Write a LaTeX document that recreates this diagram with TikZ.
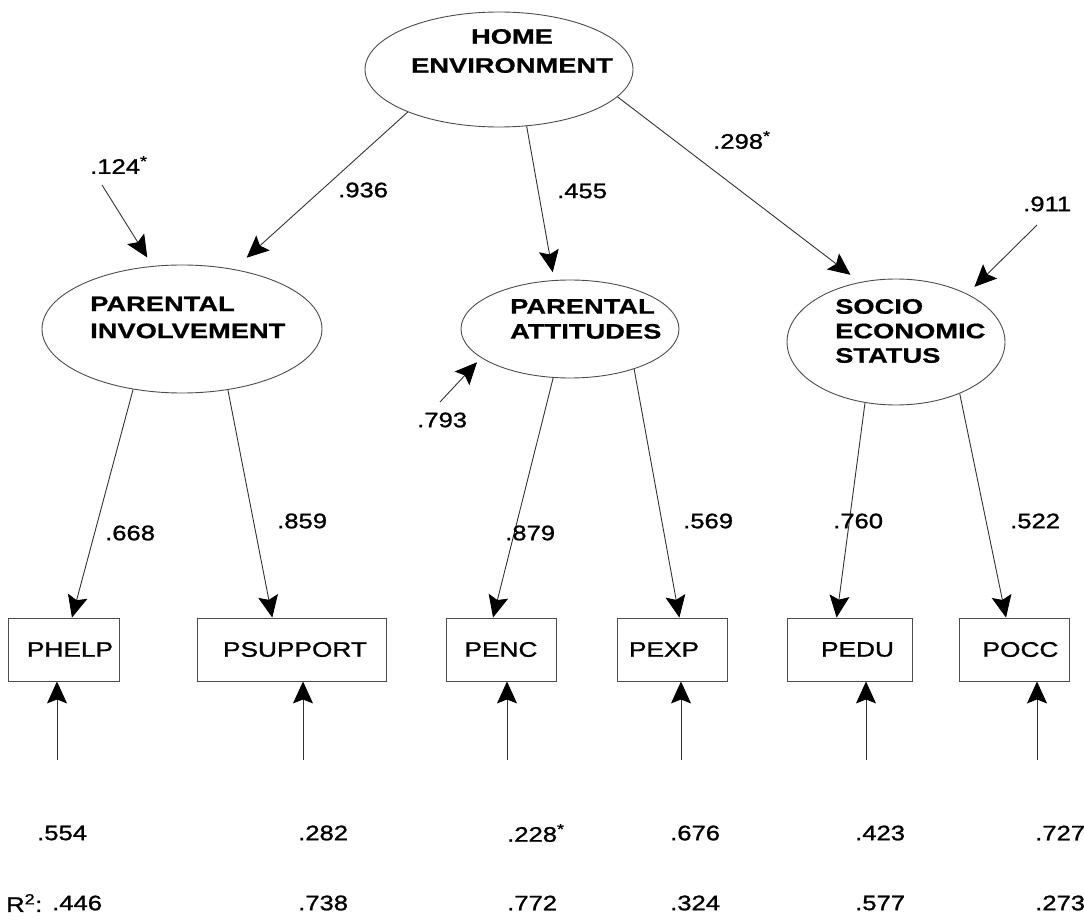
\documentclass[tikz,border=0pt]{standalone}
\usepackage{fontspec}
\setmainfont{Liberation Sans}
\newfontfamily\numf{Liberation Sans}[FakeStretch=1.22,FakeBold=1.2]
\newfontfamily\boxf{Liberation Sans}[FakeStretch=1.25,FakeBold=1.2]
\newfontfamily\latf{Liberation Sans Bold}[FakeStretch=1.3,FakeBold=0.8]
\usetikzlibrary{shapes.geometric,arrows.meta}
\tikzset{
  latent/.style={draw=black!70, ellipse, inner sep=0pt, line width=0.9pt},
  obs/.style={draw=black!70, rectangle, inner sep=0pt, line width=0.9pt, minimum height=63pt,
    font=\boxf\fontsize{21}{24}\selectfont},
  lattext/.style={font=\latf\fontsize{21}{26}\selectfont, align=left, inner sep=0pt, anchor=west},
  num/.style={font=\numf\fontsize{21}{24}\selectfont, inner sep=0pt, anchor=west},
  conn/.style={draw=black!80, line width=0.9pt, -{Stealth[length=22pt,width=20pt,inset=4pt,color=black]}}
}
\begin{document}
\begin{tikzpicture}[x=1pt,y=-1pt]
\useasboundingbox (0,0) rectangle (1084,920);
% latent variables
\node[latent, minimum width=268pt, minimum height=115pt] (home) at (499,69.5) {};
\node[latent, minimum width=280pt, minimum height=128pt] (pi) at (182,329) {};
\node[latent, minimum width=218pt, minimum height=98pt] (pa) at (570,329) {};
\node[latent, minimum width=218pt, minimum height=126pt] (ses) at (896,342) {};
\node[lattext, align=center, anchor=center, font=\latf\fontsize{21}{29}\selectfont] (homet) at (512,51) {HOME\\ENVIRONMENT};
\node[lattext, font=\latf\fontsize{21}{27}\selectfont] (pit) at (90,317.5) {PARENTAL\\INVOLVEMENT};
\node[lattext, font=\latf\fontsize{21}{25}\selectfont] (pat) at (510,319) {PARENTAL\\ATTITUDES};
\node[lattext, font=\latf\fontsize{21}{24.5}\selectfont] (sest) at (835,331) {SOCIO\\ECONOMIC\\STATUS};
% observed variables
\node[obs, minimum width=111pt] (phelp) at (64,649.5) {\hspace*{12pt}PHELP};
\node[obs, minimum width=189pt] (psupport) at (291.5,649.5) {\hspace*{7pt}PSUPPORT};
\node[obs, minimum width=110pt] (penc) at (501,649.5) {PENC};
\node[obs, minimum width=110pt] (pexp) at (672,649.5) {PEXP\hspace*{16pt}};
\node[obs, minimum width=125pt] (pedu) at (849.5,649.5) {\hspace*{16pt}PEDU};
\node[obs, minimum width=110pt] (pocc) at (1014,649.5) {\hspace*{13pt}POCC};
% error tails
\coordinate (e124) at (102,185);
\coordinate (e911) at (1037,225);
\coordinate (e793) at (440,402);
\coordinate (d1) at (57,760);
\coordinate (d2) at (303,760);
\coordinate (d3) at (507,760);
\coordinate (d4) at (681,760);
\coordinate (d5) at (866,760);
\coordinate (d6) at (1037,760);
% structural paths
\draw[conn, shorten >=17pt] (home.205) -- (pi.49);
\draw[conn, shorten >=8pt] (home.296) -- (pa.108);
\draw[conn, shorten >=12pt] (home.347) -- (ses.121);
\draw[conn, shorten >=10pt] (e124) -- (pi.115);
\draw[conn, shorten >=10pt] (e911) -- (ses.34);
\draw[conn, shorten >=6pt] (e793) -- (pa.198);
% loadings
\draw[conn] (pi.231) -- (phelp.76);
\draw[conn] (pi.307) -- (psupport.121);
\draw[conn] (pa.251) -- (penc.104);
\draw[conn] (pa.328) -- (pexp.77);
\draw[conn] (ses.243) -- (pedu.112);
\draw[conn] (ses.321) -- (pocc.104);
% measurement errors
\draw[conn] (d1) -- (d1 |- phelp.south);
\draw[conn] (d2) -- (d2 |- psupport.south);
\draw[conn] (d3) -- (d3 |- penc.south);
\draw[conn] (d4) -- (d4 |- pexp.south);
\draw[conn] (d5) -- (d5 |- pedu.south);
\draw[conn] (d6) -- (d6 |- pocc.south);
% labels
\node[num] (l124) at (90,165) {.124\textsuperscript{*}};
\node[num] (l936) at (338,190) {.936};
\node[num] (l455) at (557,191) {.455};
\node[num] (l298) at (713,140) {.298\textsuperscript{*}};
\node[num] (l911) at (1023,204) {.911};
\node[num] (l793) at (417,420) {.793};
\node[num] (l668) at (105,533) {.668};
\node[num] (l859) at (277,521) {.859};
\node[num] (l879) at (505,533) {.879};
\node[num] (l569) at (683,521) {.569};
\node[num] (l760) at (833,521) {.760};
\node[num] (l522) at (1010,521) {.522};
% error variances
\node[num] (v1) at (37,833) {.554};
\node[num] (v2) at (298,833) {.282};
\node[num] (v3) at (507,833) {.228\textsuperscript{*}};
\node[num] (v4) at (670,833) {.676};
\node[num] (v5) at (855,833) {.423};
\node[num] (v6) at (1035,833) {.727};
% R squared
\node[num] (r2lab) at (6,903) {R\textsuperscript{2}:};
\node[num] (r1) at (52,903) {.446};
\node[num] (r2) at (298,903) {.738};
\node[num] (r3) at (507,903) {.772};
\node[num] (r4) at (670,903) {.324};
\node[num] (r5) at (855,903) {.577};
\node[num] (r6) at (1035,903) {.273};
\end{tikzpicture}
\end{document}
